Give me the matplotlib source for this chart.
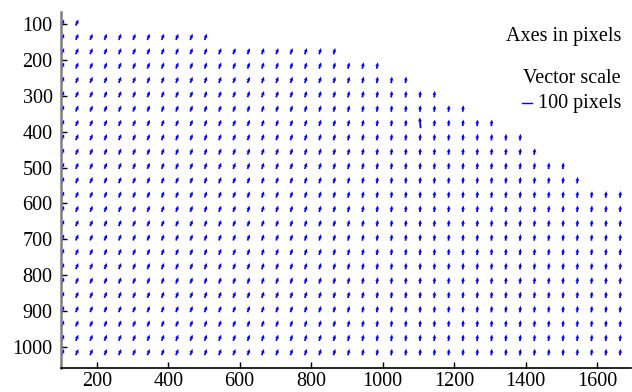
import matplotlib
matplotlib.use("Agg")
import matplotlib.pyplot as plt
import numpy as np

# grid column centres (pixels) and per-column vector components (pixels)
col_x = [105, 145, 185, 225, 265, 305, 345, 385, 425, 465,
         505, 545, 585, 625, 665, 705, 745, 785, 825, 865,
         905, 945, 985, 1025, 1065, 1105, 1145, 1185, 1225, 1265,
         1305, 1345, 1385, 1425, 1465, 1505, 1545, 1585, 1625, 1665]
u_col = [28, 27, 27, 27, 25, 25, 25, 25, 25, 25,
         24, 24, 24, 23, 23, 22, 22, 21, 19, 18,
         16, 14, 12, 8, 7, 6, 6, 6, 7, 6,
         6, 7, 7, 8, 7, 7, 7, 7, 7, 7]
v_col = [-64.2, -64.6, -64.6, -64.6, -65.4, -65.4, -65.4, -65.4, -65.4, -65.4,
         -65.8, -65.8, -65.8, -66.1, -66.1, -66.5, -66.5, -66.8, -67.4, -67.6,
         -68.1, -68.6, -69.0, -69.5, -69.6, -69.7, -69.7, -69.7, -69.6, -69.7,
         -69.7, -69.6, -69.6, -69.5, -69.6, -69.6, -69.6, -69.6, -69.6, -69.6]

# grid rows and the last column present in each row
row_y = [95, 135, 175, 215, 255, 295, 335, 375, 415, 455, 495, 535,
         575, 615, 655, 695, 735, 775, 815, 855, 895, 935, 975, 1015]
row_last_x = [145, 505, 865, 985, 1065, 1145, 1225, 1305, 1385, 1425, 1505, 1545,
              1665, 1665, 1665, 1665, 1665, 1665, 1665, 1665, 1665, 1665, 1665, 1665]

# one outlier vector
odd_x, odd_y, odd_u, odd_v = 1105, 375, -10, -115

X, Y, U, V = [], [], [], []
for ry, last in zip(row_y, row_last_x):
    for cx, cu, cv in zip(col_x, u_col, v_col):
        if cx > last:
            continue
        if cx == odd_x and ry == odd_y:
            cu, cv = odd_u, odd_v
        X.append(cx); Y.append(ry); U.append(cu); V.append(cv)

SCALE = 3.85
FS = 14.5
plt.rcParams['font.family'] = ['Liberation Serif', 'DejaVu Serif']

fig = plt.figure(figsize=(6.32, 3.92), dpi=100)
ax = fig.add_axes([61 / 632, 24.3 / 392, 570 / 632, 356 / 392])
ax.quiver(X, Y, U, V, angles='xy', scale_units='xy', scale=SCALE,
          pivot='middle', units='dots', width=1.8, headwidth=2.2,
          headlength=2.3, headaxislength=2.0, color='#0000ff')

ax.set_xlim(100, 1695)
ax.set_ylim(1058.6, 64.8)

for s in ['top', 'right']:
    ax.spines[s].set_visible(False)
ax.spines['left'].set_color('#808080')
ax.spines['left'].set_linewidth(1.8)
ax.spines['bottom'].set_color('black')
ax.spines['bottom'].set_linewidth(1.2)

ax.set_xticks([200, 400, 600, 800, 1000, 1200, 1400, 1600])
ax.set_yticks([100, 200, 300, 400, 500, 600, 700, 800, 900, 1000])
ax.tick_params(direction='in', length=4, width=1, labelsize=FS, colors='black')
ax.tick_params(axis='y', pad=6)
ax.tick_params(axis='x', pad=3)

tx = 1667
ax.text(tx, 133, 'Axes in pixels', ha='right', va='center', fontsize=FS)
ax.text(tx, 252, 'Vector scale', ha='right', va='center', fontsize=FS)
ax.text(tx, 322, '100 pixels', ha='right', va='center', fontsize=FS)
ax.plot([1391, 1391 + 100 / SCALE], [320, 320], color='#0000ff', lw=1)

fig.savefig('out.png', dpi=100)
